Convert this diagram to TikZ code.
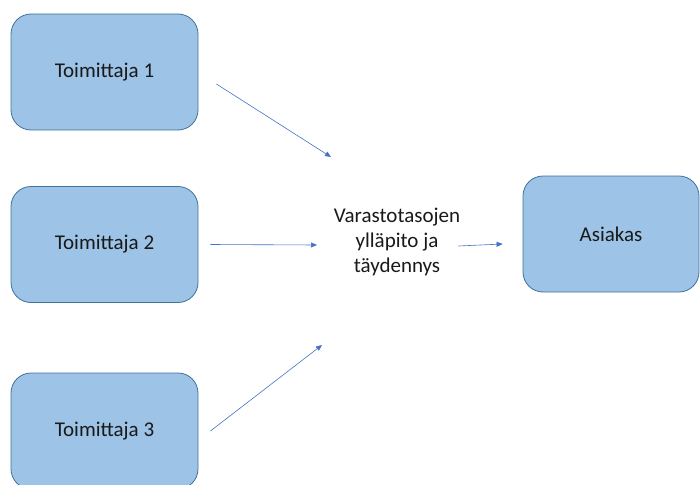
\documentclass[tikz,border=0pt]{standalone}
\usepackage{fontspec}
\setmainfont{Carlito}
\usetikzlibrary{arrows.meta, positioning}
\definecolor{boxfill}{HTML}{9DC3E6}
\definecolor{boxline}{HTML}{41719C}
\definecolor{arrowc}{HTML}{4472C4}

\begin{document}
\begin{tikzpicture}[
  x=1pt, y=-1pt,
  font=\fontsize{21}{25}\selectfont,
  party/.style={draw=boxline, line width=0.8pt, fill=boxfill, rounded corners=20pt,
                minimum width=187pt, minimum height=116pt, anchor=center, text=black!90},
  flow/.style={draw=arrowc, line width=0.6pt, -{Triangle[length=6pt, width=5pt]}},
]
\useasboundingbox (0,0) rectangle (700,484);
\clip (0,0) rectangle (700,484);
% Suppliers
\node[party] (t1) at (104.5,72) {Toimittaja 1};
\node[party] (t2) at (104.5,244.5) {Toimittaja 2};
\node[party] (t3) at (104.5,431) {Toimittaja 3};
% Stock level step and customer
\node[align=center, inner sep=0pt, text=black!90] (hub) at (397,242) {Varastotasojen\\ylläpito ja\\täydennys};
\node[party, minimum width=176pt] (as) at (611,234) {Asiakas};
% Arrow tips
\coordinate (in1) at (331,157);
\coordinate (in2) at (317,245);
\coordinate (in3) at (322,345);
\draw[flow] ([xshift=18pt, yshift=-12pt]t1.east) -- (in1);
\draw[flow] ([xshift=12pt]t2.east) -- (in2);
\draw[flow] ([xshift=12pt]t3.east) -- (in3);
\draw[flow] ([xshift=-2pt, yshift=-4pt]hub.east) -- ([xshift=-20pt, yshift=-10pt]as.west);
\end{tikzpicture}
\end{document}
